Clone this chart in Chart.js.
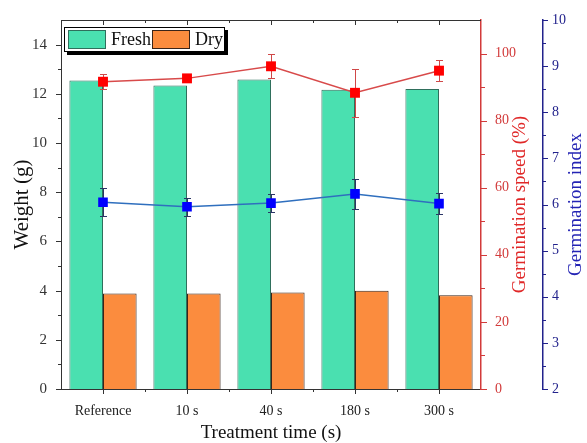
<!DOCTYPE html>
<html>
<head>
<meta charset="utf-8">
<script src="https://cdn.jsdelivr.net/npm/chart.js@4.4.1/dist/chart.umd.min.js"></script>
<style>
  html, body { margin: 0; padding: 0; background: #fff; }
  #wrap { width: 587px; height: 443px; }
</style>
</head>
<body>
<div id="wrap"><canvas id="chart" width="587" height="443"></canvas></div>
<script>
// valeurs
const categories = ["Reference", "10 s", "40 s", "180 s", "300 s"];
const freshWeight = [12.54, 12.34, 12.58, 12.16, 12.2];
const dryWeight = [3.88, 3.88, 3.92, 3.99, 3.81];
const germSpeed = [91.6, 92.6, 96.2, 88.3, 94.9];
const germSpeedErr = [2.2, 0.8, 3.6, 7.1, 3.1];
const germIndex = [6.05, 5.95, 6.03, 6.23, 6.02];
const germIndexErr = [0.31, 0.19, 0.19, 0.33, 0.23];

// graduations des axes
const weightTicks = [0, 2, 4, 6, 8, 10, 12, 14];
const speedTicks = [0, 20, 40, 60, 80, 100];
const indexTicks = [2, 3, 4, 5, 6, 7, 8, 9, 10];

const SERIF = "'Liberation Serif', 'Times New Roman', serif";
const RED = "#d23a3a";
const NAVY = "#22228c";

// petites graduations entre les grandes
function minorsOf(values, max) {
  const out = [];
  for (let i = 0; i < values.length; i++) {
    const next = i + 1 < values.length ? values[i + 1] : values[i] + (values[1] - values[0]);
    const mid = (values[i] + next) / 2;
    if (mid < max) out.push(mid);
  }
  return out;
}

function drawYTicks(ctx, scale, xLine, dir, color, majorLen, minorLen) {
  const values = scale.ticks.map((t) => t.value);
  ctx.strokeStyle = color;
  ctx.lineWidth = 1;
  ctx.beginPath();
  values.forEach((v) => {
    const y = Math.round(scale.getPixelForValue(v)) + 0.5;
    ctx.moveTo(xLine, y);
    ctx.lineTo(xLine + dir * majorLen, y);
  });
  minorsOf(values, scale.max).forEach((v) => {
    const y = Math.round(scale.getPixelForValue(v)) + 0.5;
    ctx.moveTo(xLine, y);
    ctx.lineTo(xLine + dir * minorLen, y);
  });
  ctx.stroke();
}

const decorPlugin = {
  id: "decor",
  // barres d'erreur sous les marqueurs, au-dessus des barres
  beforeDatasetDraw(chart, args) {
    const ds = chart.data.datasets[args.index];
    if (!ds.errors) return;
    const ctx = chart.ctx;
    const xs = chart.scales.x;
    const ys = chart.scales[ds.yAxisID];
    ctx.save();
    ctx.strokeStyle = ds.errorColor;
    ctx.lineWidth = 1;
    ctx.beginPath();
    ds.data.forEach((v, i) => {
      const px = Math.round(xs.getPixelForValue(i)) + 0.5;
      const top = Math.round(ys.getPixelForValue(v + ds.errors[i])) + 0.5;
      const bot = Math.round(ys.getPixelForValue(v - ds.errors[i])) + 0.5;
      ctx.moveTo(px, top);
      ctx.lineTo(px, bot);
      ctx.moveTo(px - 3.5, top);
      ctx.lineTo(px + 3.5, top);
      ctx.moveTo(px - 3.5, bot);
      ctx.lineTo(px + 3.5, bot);
    });
    ctx.stroke();
    ctx.restore();
  },
  afterDraw(chart) {
    const ctx = chart.ctx;
    const area = chart.chartArea;
    const xs = chart.scales.x;
    ctx.save();

    // cadre du haut
    ctx.strokeStyle = "#333";
    ctx.lineWidth = 1;
    ctx.beginPath();
    ctx.moveTo(area.left, area.top + 0.5);
    ctx.lineTo(area.right, area.top + 0.5);
    ctx.stroke();

    // graduations de l'axe x (bas vers l'extérieur, haut vers l'intérieur)
    ctx.beginPath();
    const step = (area.right - area.left) / categories.length;
    categories.forEach((c, i) => {
      const px = Math.round(xs.getPixelForValue(i)) + 0.5;
      ctx.moveTo(px, area.bottom);
      ctx.lineTo(px, area.bottom + 5);
      ctx.moveTo(px, area.top);
      ctx.lineTo(px, area.top + 5);
    });
    for (let i = 1; i < categories.length; i++) {
      const px = Math.round(area.left + i * step) + 0.5;
      ctx.moveTo(px, area.bottom);
      ctx.lineTo(px, area.bottom + 3);
      ctx.moveTo(px, area.top);
      ctx.lineTo(px, area.top + 3);
    }
    ctx.stroke();

    drawYTicks(ctx, chart.scales.y, area.left, -1, "#333", 5, 3);
    drawYTicks(ctx, chart.scales.ySpeed, chart.scales.ySpeed.left, 1, RED, 6, 4);
    drawYTicks(ctx, chart.scales.yIndex, chart.scales.yIndex.left, 1, NAVY, 5, 3);

    // titres verticaux, lus de bas en haut
    const midY = (area.top + area.bottom) / 2;
    const titles = [
      { text: "Weight (g)", x: 22, color: "#111", size: 21 },
      { text: "Germination speed (%)", x: 520, color: "#e02828", size: 19 },
      { text: "Germination index", x: 576, color: "#2424b4", size: 19 },
    ];
    titles.forEach((t) => {
      ctx.save();
      ctx.translate(t.x, midY);
      ctx.rotate(-Math.PI / 2);
      ctx.fillStyle = t.color;
      ctx.font = t.size + "px " + SERIF;
      ctx.textAlign = "center";
      ctx.textBaseline = "middle";
      ctx.fillText(t.text, 0, 0);
      ctx.restore();
    });

    // légende encadrée avec ombre
    const lx = area.left + 3, ly = area.top + 7, lw = 161, lh = 25;
    ctx.fillStyle = "#000";
    ctx.fillRect(lx + 3, ly + 3, lw, lh);
    ctx.fillStyle = "#fff";
    ctx.fillRect(lx, ly, lw, lh);
    ctx.strokeStyle = "#000";
    ctx.lineWidth = 1;
    ctx.strokeRect(lx + 0.5, ly + 0.5, lw - 1, lh - 1);
    const items = chart.data.datasets.filter((d) => d.type !== "line");
    const slots = [lx + 4, lx + 88];
    items.forEach((d, i) => {
      const sx = slots[i];
      ctx.fillStyle = d.backgroundColor;
      ctx.fillRect(sx, ly + 3, 38, 19);
      ctx.strokeStyle = d.borderColor;
      ctx.strokeRect(sx + 0.5, ly + 3.5, 37, 18);
      ctx.fillStyle = "#111";
      ctx.font = "18px " + SERIF;
      ctx.textAlign = "left";
      ctx.textBaseline = "middle";
      ctx.fillText(d.label, sx + 43, ly + 13);
    });

    ctx.restore();
  },
};

new Chart(document.getElementById("chart"), {
  type: "bar",
  data: {
    labels: categories,
    datasets: [
      {
        type: "line",
        label: "Germination speed",
        data: germSpeed,
        errors: germSpeedErr,
        errorColor: "#d04848",
        yAxisID: "ySpeed",
        borderColor: "#d84a4a",
        borderWidth: 1.5,
        pointStyle: "rect",
        pointRadius: 7,
        pointBorderWidth: 0,
        pointBackgroundColor: "#ff0000",
        pointBorderColor: "#ff0000",
        tension: 0,
        order: 1,
      },
      {
        type: "line",
        label: "Germination index",
        data: germIndex,
        errors: germIndexErr,
        errorColor: "#2b3566",
        yAxisID: "yIndex",
        borderColor: "#2f6fbe",
        borderWidth: 1.5,
        pointStyle: "rect",
        pointRadius: 6.8,
        pointBorderWidth: 0,
        pointBackgroundColor: "#0000ff",
        pointBorderColor: "#0000ff",
        tension: 0,
        order: 1,
      },
      {
        label: "Fresh",
        data: freshWeight,
        yAxisID: "y",
        backgroundColor: "#4ae0b0",
        borderColor: "#2f6f5c",
        borderWidth: 1,
        categoryPercentage: 0.8,
        barPercentage: 1.0,
        order: 2,
      },
      {
        label: "Dry",
        data: dryWeight,
        yAxisID: "y",
        backgroundColor: "#fb8c3e",
        borderColor: "#3a2418",
        borderWidth: 1,
        categoryPercentage: 0.8,
        barPercentage: 1.0,
        order: 2,
      },
    ],
  },
  options: {
    responsive: false,
    animation: false,
    devicePixelRatio: 1,
    layout: { padding: { top: 20, right: 0, left: 0, bottom: 0 } },
    plugins: {
      legend: { display: false },
      tooltip: { enabled: false },
    },
    scales: {
      x: {
        position: "bottom",
        offset: true,
        grid: { display: false },
        border: { color: "#333", width: 1 },
        ticks: { color: "#222", font: { family: SERIF, size: 14 }, padding: 6, maxRotation: 0 },
        title: {
          display: true,
          text: "Treatment time (s)",
          color: "#111",
          font: { family: SERIF, size: 19, lineHeight: 1 },
          padding: { top: 0, bottom: 0 },
        },
        afterFit(scale) {
          scale.height = 54;
        },
      },
      y: {
        position: "left",
        min: 0,
        max: 15,
        grid: { display: false },
        border: { color: "#333", width: 1 },
        ticks: { color: "#333", font: { family: SERIF, size: 15 }, padding: 6 },
        afterBuildTicks(scale) {
          scale.ticks = weightTicks.map((v) => ({ value: v }));
        },
        afterFit(scale) {
          scale.width = 61;
        },
      },
      ySpeed: {
        position: "right",
        weight: 0,
        min: 0,
        max: 110,
        grid: { display: false },
        border: { color: RED, width: 1.5 },
        ticks: { color: RED, font: { family: SERIF, size: 14 }, padding: 6 },
        afterBuildTicks(scale) {
          scale.ticks = speedTicks.map((v) => ({ value: v }));
        },
        afterFit(scale) {
          scale.width = 62;
        },
      },
      yIndex: {
        position: "right",
        weight: 1,
        min: 2,
        max: 10,
        grid: { display: false },
        border: { color: NAVY, width: 1.5 },
        ticks: { color: NAVY, font: { family: SERIF, size: 14 }, padding: 1 },
        afterBuildTicks(scale) {
          scale.ticks = indexTicks.map((v) => ({ value: v }));
        },
        afterFit(scale) {
          scale.width = 44;
        },
      },
    },
  },
  plugins: [decorPlugin],
});
</script>
</body>
</html>
